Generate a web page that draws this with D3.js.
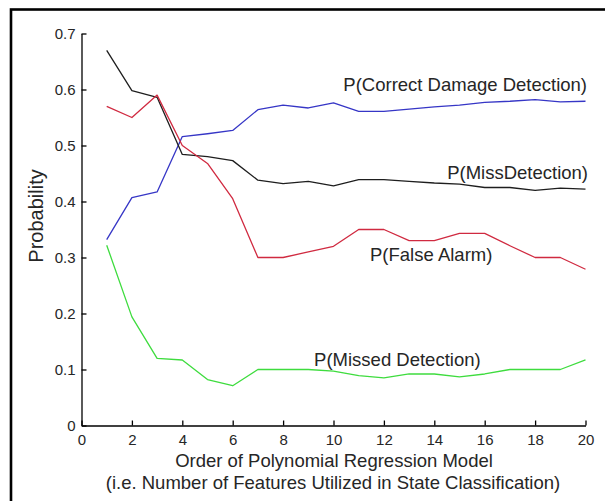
<!DOCTYPE html>
<html>
<head>
<meta charset="utf-8">
<script src="https://cdn.jsdelivr.net/npm/d3@7"></script>
<style>
  html, body { margin: 0; padding: 0; background: #fff; }
  svg { display: block; }
  text { font-family: "Liberation Sans", Arial, sans-serif; fill: #262626; }
</style>
</head>
<body>
<svg id="chart" width="605" height="501"></svg>
<script>
// Model order (number of features) on the x axis
const orders = d3.range(1, 21);

// Probability of each outcome for model orders 1..20
const correctDetection = [0.332, 0.407, 0.417, 0.516, 0.521, 0.527, 0.564, 0.572, 0.567, 0.576,
                          0.561, 0.561, 0.565, 0.569, 0.572, 0.577, 0.579, 0.582, 0.578, 0.579];
const missDetection    = [0.670, 0.598, 0.586, 0.484, 0.480, 0.473, 0.438, 0.432, 0.436, 0.428,
                          0.439, 0.439, 0.436, 0.433, 0.431, 0.425, 0.425, 0.420, 0.424, 0.422];
const falseAlarm       = [0.570, 0.550, 0.590, 0.500, 0.468, 0.405, 0.300, 0.300, 0.310, 0.320,
                          0.350, 0.350, 0.330, 0.330, 0.343, 0.343, 0.321, 0.300, 0.300, 0.279];
const missedDetection  = [0.322, 0.194, 0.120, 0.117, 0.082, 0.071, 0.100, 0.100, 0.100, 0.097,
                          0.089, 0.085, 0.092, 0.092, 0.087, 0.092, 0.100, 0.100, 0.100, 0.117];

const xTicks = d3.range(0, 21, 2);
const yTicks = [0, 0.1, 0.2, 0.3, 0.4, 0.5, 0.6, 0.7];

const seriesNames  = ["P(Correct Damage Detection)", "P(MissDetection)", "P(False Alarm)", "P(Missed Detection)"];
const seriesValues = [correctDetection, missDetection, falseAlarm, missedDetection];
const seriesColors = ["#3636c6", "#1e1e1e", "#d02a40", "#3edc3e"];
// where each curve's label sits, in data units: [x, y, anchor]
const labelSpots   = [[20.06, 0.597, "end"], [20.1, 0.440, "end"], [11.45, 0.294, "start"], [9.23, 0.106, "start"]];

const svg = d3.select("#chart");

// outer frame
svg.append("rect")
  .attr("x", 11).attr("y", 9.5).attr("width", 604).attr("height", 510)
  .attr("fill", "none").attr("stroke", "#000").attr("stroke-width", 2.6);

const x = d3.scaleLinear().domain([0, 20]).range([81.5, 585.5]);
const y = d3.scaleLinear().domain([0, 0.7]).range([425.5, 33.5]);

// axes with inward ticks
const xAxis = svg.append("g").attr("transform", `translate(0,${y(0)})`)
  .call(d3.axisBottom(x).tickValues(xTicks).tickSizeInner(-5).tickSizeOuter(0).tickPadding(9)
    .tickFormat(d3.format("d")));
const yAxis = svg.append("g").attr("transform", `translate(${x(0)},0)`)
  .call(d3.axisLeft(y).tickValues(yTicks).tickSizeInner(-5).tickSizeOuter(0).tickPadding(6)
    .tickFormat(d => d === 0 ? "0" : d3.format(".1f")(d)));

[xAxis, yAxis].forEach(g => {
  g.select(".domain").attr("stroke", "#000").attr("stroke-width", 1.3);
  g.selectAll(".tick line").attr("stroke", "#000").attr("stroke-width", 1.3);
  g.selectAll(".tick text").attr("font-size", 15).attr("fill", "#262626")
    .style("font-family", "'Liberation Sans', Arial, sans-serif");
});

// curves
const line = d3.line().x((d, i) => x(orders[i])).y(d => y(d));
seriesValues.forEach((vals, k) => {
  svg.append("path").datum(vals)
    .attr("d", line)
    .attr("fill", "none")
    .attr("stroke", seriesColors[k])
    .attr("stroke-width", 1.3)
    .attr("stroke-linejoin", "round");
});

// curve labels
seriesNames.forEach((name, k) => {
  const [lx, ly, anchor] = labelSpots[k];
  svg.append("text")
    .attr("x", x(lx)).attr("y", y(ly))
    .attr("text-anchor", anchor)
    .attr("font-size", 18.5)
    .text(name);
});

// axis titles
svg.append("text")
  .attr("x", 334).attr("y", 467)
  .attr("text-anchor", "middle").attr("font-size", 18.5)
  .text("Order of Polynomial Regression Model");
svg.append("text")
  .attr("x", 333).attr("y", 489)
  .attr("text-anchor", "middle").attr("font-size", 18.5)
  .text("(i.e. Number of Features Utilized in State Classification)");
svg.append("text")
  .attr("transform", "translate(43,216) rotate(-90)")
  .attr("text-anchor", "middle").attr("font-size", 20)
  .text("Probability");
</script>
</body>
</html>
